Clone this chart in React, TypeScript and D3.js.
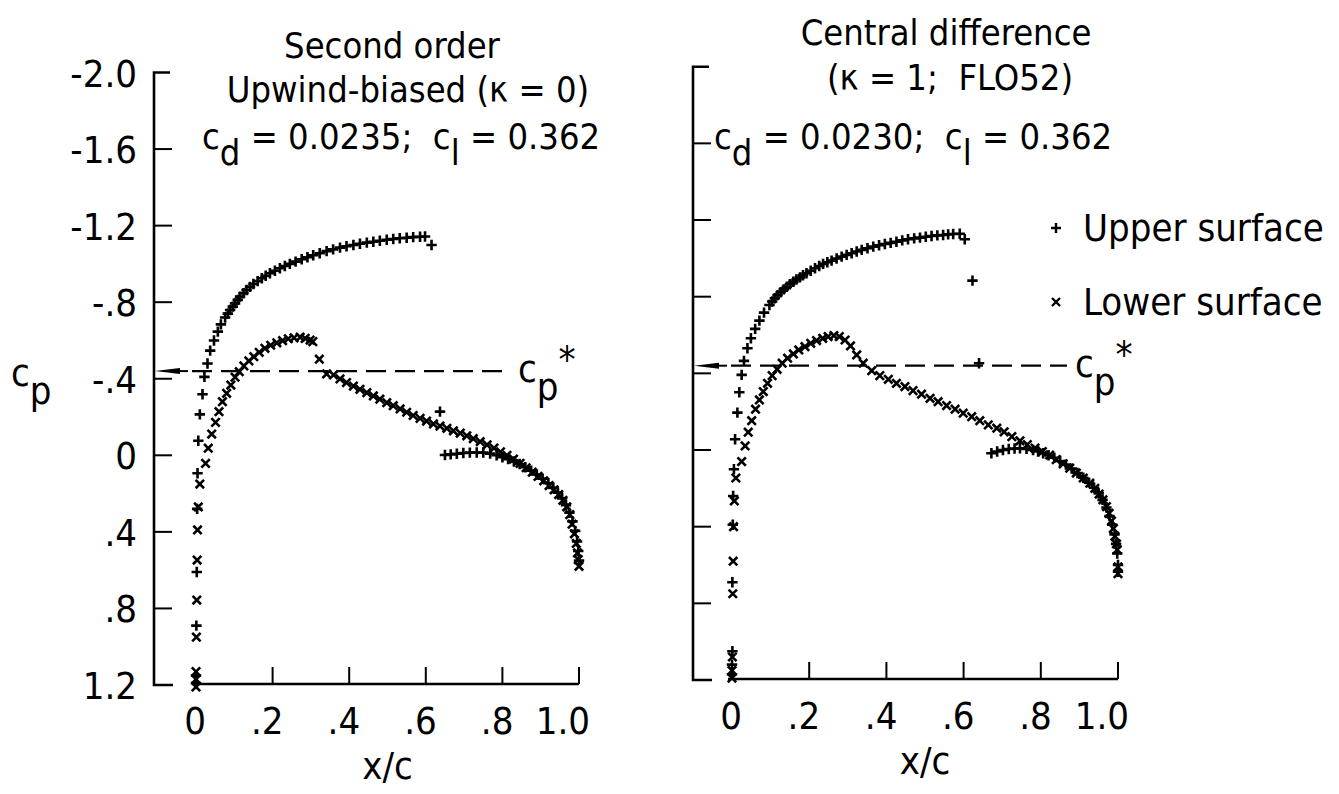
import React, { useEffect, useRef } from "react";
import * as d3 from "d3";

// [x/c, cp]
const leftUpper: [number, number][] = [
  [0, 1.19], [0, 1.15], [0.001, 0.89], [0.002, 0.61], [0.003, 0.28], [0.004, 0.094], [0.006, -0.076],
  [0.010, -0.214], [0.017, -0.319], [0.022, -0.41], [0.030, -0.48], [0.037, -0.547], [0.047, -0.60],
  [0.057, -0.646], [0.065, -0.684], [0.076, -0.72], [0.083, -0.74], [0.089, -0.759], [0.096, -0.777],
  [0.102, -0.794], [0.109, -0.812], [0.115, -0.829], [0.124, -0.847], [0.132, -0.864], [0.141, -0.88],
  [0.150, -0.895], [0.161, -0.91], [0.172, -0.925], [0.182, -0.938], [0.193, -0.951], [0.206, -0.964],
  [0.219, -0.977], [0.232, -0.989], [0.245, -1.0], [0.260, -1.012], [0.276, -1.024], [0.291, -1.035],
  [0.306, -1.045], [0.323, -1.056], [0.341, -1.067], [0.358, -1.076], [0.376, -1.085], [0.393, -1.092],
  [0.411, -1.099], [0.428, -1.105], [0.446, -1.111], [0.463, -1.116], [0.480, -1.121], [0.498, -1.126],
  [0.515, -1.13], [0.532, -1.134], [0.550, -1.137], [0.567, -1.14], [0.585, -1.142], [0.598, -1.143],
  [0.615, -1.099], [0.637, -0.228], [0.650, -0.002], [0.665, -0.005], [0.681, -0.008], [0.698, -0.012],
  [0.715, -0.014], [0.733, -0.015], [0.750, -0.014], [0.768, -0.009], [0.785, 0.0], [0.800, 0.01],
  [0.815, 0.02], [0.830, 0.032], [0.845, 0.045], [0.860, 0.062], [0.875, 0.08], [0.890, 0.1],
  [0.905, 0.122], [0.920, 0.146], [0.933, 0.17], [0.945, 0.195], [0.956, 0.225], [0.966, 0.26],
  [0.975, 0.3], [0.983, 0.345], [0.990, 0.395], [0.995, 0.45], [0.998, 0.5], [1.0, 0.55],
];

const leftLower: [number, number][] = [
  [0, 1.21], [0, 1.17], [0, 1.13], [0.001, 0.95], [0.002, 0.756], [0.003, 0.547], [0.004, 0.39],
  [0.006, 0.27], [0.010, 0.15], [0.025, 0.042], [0.032, -0.037], [0.041, -0.111], [0.051, -0.172],
  [0.060, -0.228], [0.069, -0.28], [0.080, -0.324], [0.091, -0.367], [0.102, -0.408], [0.113, -0.437],
  [0.125, -0.467], [0.138, -0.493], [0.151, -0.515], [0.165, -0.538], [0.180, -0.559], [0.195, -0.575],
  [0.211, -0.588], [0.226, -0.599], [0.241, -0.609], [0.256, -0.614], [0.272, -0.617], [0.285, -0.611],
  [0.298, -0.602], [0.305, -0.594], [0.322, -0.502], [0.341, -0.425], [0.359, -0.42], [0.376, -0.399],
  [0.393, -0.38], [0.411, -0.362], [0.428, -0.345], [0.446, -0.327], [0.463, -0.31], [0.480, -0.293],
  [0.498, -0.275], [0.515, -0.259], [0.533, -0.242], [0.550, -0.225], [0.567, -0.208], [0.585, -0.193],
  [0.602, -0.179], [0.620, -0.164], [0.637, -0.153], [0.655, -0.141], [0.672, -0.128], [0.690, -0.116],
  [0.707, -0.102], [0.724, -0.087], [0.742, -0.071], [0.760, -0.055], [0.778, -0.038], [0.795, -0.018],
  [0.812, 0.0], [0.829, 0.02], [0.846, 0.042], [0.862, 0.065], [0.878, 0.088], [0.893, 0.11],
  [0.908, 0.133], [0.922, 0.158], [0.935, 0.18], [0.947, 0.205], [0.958, 0.235], [0.968, 0.269],
  [0.976, 0.31], [0.982, 0.36], [0.988, 0.41], [0.993, 0.46], [0.996, 0.51], [0.998, 0.545], [1.0, 0.58],
];

const rightUpper: [number, number][] = [
  [0, 1.17], [0, 1.12], [0.001, 1.05], [0.001, 0.69], [0.002, 0.39], [0.003, 0.24], [0.005, 0.1],
  [0.008, -0.056], [0.014, -0.195], [0.019, -0.301], [0.025, -0.392], [0.031, -0.465], [0.040, -0.531],
  [0.049, -0.583], [0.060, -0.632], [0.071, -0.675], [0.083, -0.717], [0.097, -0.757], [0.104, -0.775],
  [0.111, -0.792], [0.118, -0.808], [0.126, -0.823], [0.134, -0.838], [0.142, -0.852], [0.150, -0.865],
  [0.159, -0.878], [0.167, -0.89], [0.176, -0.901], [0.184, -0.912], [0.193, -0.922], [0.204, -0.935],
  [0.215, -0.948], [0.226, -0.96], [0.236, -0.971], [0.247, -0.98], [0.258, -0.988], [0.271, -0.999],
  [0.284, -1.009], [0.297, -1.018], [0.310, -1.027], [0.323, -1.036], [0.336, -1.044], [0.351, -1.053],
  [0.366, -1.061], [0.381, -1.068], [0.396, -1.075], [0.411, -1.081], [0.426, -1.087], [0.441, -1.094],
  [0.456, -1.1], [0.472, -1.104], [0.487, -1.108], [0.502, -1.113], [0.517, -1.117], [0.532, -1.12],
  [0.547, -1.122], [0.560, -1.125], [0.573, -1.127], [0.590, -1.128], [0.603, -1.1], [0.623, -0.884],
  [0.640, -0.453], [0.672, 0.017], [0.687, 0.008], [0.702, 0.0], [0.717, -0.005], [0.732, -0.008],
  [0.746, -0.009], [0.763, -0.006], [0.780, 0.0], [0.793, 0.008], [0.806, 0.017], [0.820, 0.027],
  [0.835, 0.04], [0.850, 0.057], [0.865, 0.076], [0.880, 0.097], [0.895, 0.12], [0.910, 0.145],
  [0.925, 0.17], [0.938, 0.197], [0.950, 0.226], [0.960, 0.26], [0.970, 0.3], [0.978, 0.345],
  [0.985, 0.39], [0.991, 0.44], [0.995, 0.49], [0.998, 0.54], [1.0, 0.6], [1.0, 0.635],
];

const rightLower: [number, number][] = [
  [0, 1.19], [0, 1.15], [0.001, 1.08], [0.002, 0.75], [0.003, 0.58], [0.004, 0.4], [0.006, 0.266],
  [0.010, 0.146], [0.025, 0.06], [0.034, -0.021], [0.042, -0.093], [0.051, -0.153], [0.061, -0.213],
  [0.071, -0.261], [0.081, -0.305], [0.092, -0.348], [0.104, -0.388], [0.117, -0.421], [0.130, -0.453],
  [0.144, -0.479], [0.159, -0.501], [0.173, -0.522], [0.189, -0.539], [0.204, -0.557], [0.219, -0.571],
  [0.235, -0.583], [0.249, -0.592], [0.264, -0.597], [0.278, -0.592], [0.293, -0.574], [0.307, -0.543],
  [0.323, -0.496], [0.340, -0.453], [0.362, -0.414], [0.383, -0.388], [0.405, -0.369], [0.426, -0.348],
  [0.448, -0.331], [0.469, -0.31], [0.491, -0.291], [0.513, -0.27], [0.534, -0.252], [0.556, -0.232],
  [0.578, -0.213], [0.599, -0.192], [0.621, -0.174], [0.642, -0.153], [0.664, -0.131], [0.686, -0.114],
  [0.705, -0.095], [0.725, -0.07], [0.746, -0.048], [0.765, -0.028], [0.785, -0.01], [0.804, 0.008],
  [0.823, 0.026], [0.840, 0.05], [0.858, 0.072], [0.875, 0.095], [0.892, 0.12], [0.910, 0.146],
  [0.927, 0.173], [0.940, 0.2], [0.951, 0.23], [0.961, 0.26], [0.970, 0.295], [0.977, 0.33],
  [0.983, 0.37], [0.988, 0.41], [0.992, 0.45], [0.996, 0.49], [0.998, 0.52], [1.0, 0.61], [1.0, 0.645],
];

const yTicks = [-2.0, -1.6, -1.2, -0.8, -0.4, 0, 0.4, 0.8, 1.2];
const yTickLabels = ["-2.0", "-1.6", "-1.2", "-.8", "-.4", "0", ".4", ".8", "1.2"];
const xTicks = [0, 0.2, 0.4, 0.6, 0.8, 1.0];
const xTickLabels = ["0", ".2", ".4", ".6", ".8", "1.0"];
const cpStar = -0.44;

const leftTitle = ["Second order", "Upwind-biased (\u03ba = 0)"];
const rightTitle = ["Central difference", "(\u03ba = 1;  FLO52)"];
const leftCoef = ["0.0235", "0.362"];
const rightCoef = ["0.0230", "0.362"];
const legendLabels = ["Upper surface", "Lower surface"];

const FONT = "'DejaVu Sans Condensed', 'Liberation Sans Narrow', 'DejaVu Sans', sans-serif";

const panels = [
  {
    x0: 196, x1: 579, yTop: 72.5, yBot: 685, axisX: 154, dashEnd: 510,
    upper: leftUpper, lower: leftLower, title: leftTitle, coef: leftCoef,
    titleX: [392, 408], titleY: [58, 102], coefX: 202, coefY: 149, labels: true,
  },
  {
    x0: 732, x1: 1118, yTop: 66.7, yBot: 680, axisX: 693, dashEnd: 1067,
    upper: rightUpper, lower: rightLower, title: rightTitle, coef: rightCoef,
    titleX: [946, 950], titleY: [45, 90], coefX: 714, coefY: 149, labels: false,
  },
];

const plusPath = (s: number) => `M${-s},0H${s}M0,${-s}V${s}`;
const crossPath = (s: number) => `M${-s},${-s}L${s},${s}M${-s},${s}L${s},${-s}`;

export default function App() {
  const ref = useRef<SVGSVGElement>(null);

  useEffect(() => {
    const svg = d3.select(ref.current);
    svg.selectAll("*").remove();

    panels.forEach((p) => {
      const x = d3.scaleLinear().domain([0, 1]).range([p.x0, p.x1]);
      const y = d3.scaleLinear().domain([-2, 1.2]).range([p.yTop, p.yBot]);
      const g = svg.append("g");

      // y axis with end caps
      g.append("path")
        .attr("d", `M${p.axisX + 16},${y(-2)}H${p.axisX}V${y(1.2)}H${p.axisX + 19}`)
        .attr("fill", "none").attr("stroke", "#000").attr("stroke-width", 2.6);
      g.selectAll(".yt")
        .data(yTicks.slice(1, -1))
        .join("line")
        .attr("x1", p.axisX).attr("x2", p.axisX + 18)
        .attr("y1", (d) => y(d)).attr("y2", (d) => y(d))
        .attr("stroke", "#000").attr("stroke-width", 2);

      // x axis
      const xb = y(1.2) - 1;
      g.append("line")
        .attr("x1", x(0) - 4).attr("x2", x(1))
        .attr("y1", xb).attr("y2", xb)
        .attr("stroke", "#000").attr("stroke-width", 2.6);
      g.selectAll(".xt")
        .data(xTicks.slice(1))
        .join("line")
        .attr("x1", (d) => x(d)).attr("x2", (d) => x(d))
        .attr("y1", xb).attr("y2", xb - 17)
        .attr("stroke", "#000").attr("stroke-width", 2);

      g.selectAll(".xl")
        .data(xTicks)
        .join("text")
        .attr("x", (d) => x(d) + (d === 0 ? 10 : 11))
        .attr("y", xb + 50)
        .attr("text-anchor", "end")
        .attr("font-family", FONT).attr("font-size", 38)
        .text((d, i) => xTickLabels[i]);

      g.append("text")
        .attr("x", (p.x0 + p.x1) / 2).attr("y", xb + 95)
        .attr("text-anchor", "middle")
        .attr("font-family", FONT).attr("font-size", 38)
        .text("x/c");

      // critical pressure line with arrow
      const yc = y(cpStar);
      g.append("path")
        .attr("d", `M${p.axisX + 1},${yc}L${p.axisX + 26},${yc - 3}L${p.axisX + 26},${yc + 3}Z`)
        .attr("fill", "#000");
      g.append("line")
        .attr("x1", p.axisX + 20).attr("x2", p.axisX + 34)
        .attr("y1", yc).attr("y2", yc)
        .attr("stroke", "#000").attr("stroke-width", 2);
      g.append("line")
        .attr("x1", p.axisX + 38).attr("x2", p.dashEnd)
        .attr("y1", yc).attr("y2", yc)
        .attr("stroke", "#000").attr("stroke-width", 2.2)
        .attr("stroke-dasharray", "20 9");
      const cs = g.append("text")
        .attr("x", p.dashEnd + 8).attr("y", yc + 11)
        .attr("font-family", FONT).attr("font-size", 38);
      cs.append("tspan").text("c");
      cs.append("tspan").attr("dy", 18).text("p");
      cs.append("tspan").attr("dy", -27).text("*");

      // titles
      p.title.forEach((t, i) => {
        g.append("text")
          .attr("x", p.titleX[i]).attr("y", p.titleY[i])
          .attr("text-anchor", "middle")
          .attr("font-family", FONT).attr("font-size", 36)
          .attr("xml:space", "preserve")
          .text(t);
      });
      const ct = g.append("text")
        .attr("x", p.coefX).attr("y", p.coefY)
        .attr("font-family", FONT).attr("font-size", 36)
        .attr("xml:space", "preserve");
      ct.append("tspan").text("c");
      ct.append("tspan").attr("dy", 16).text("d");
      ct.append("tspan").attr("dy", -16).text(` = ${p.coef[0]};  c`);
      ct.append("tspan").attr("dy", 16).text("l");
      ct.append("tspan").attr("dy", -16).text(` = ${p.coef[1]}`);

      // markers
      g.selectAll(".up")
        .data(p.upper)
        .join("path")
        .attr("transform", (d) => `translate(${x(d[0])},${y(d[1])})`)
        .attr("d", plusPath(5.2))
        .attr("stroke", "#000").attr("stroke-width", 2.6).attr("fill", "none");
      g.selectAll(".lo")
        .data(p.lower)
        .join("path")
        .attr("transform", (d) => `translate(${x(d[0])},${y(d[1])})`)
        .attr("d", crossPath(4.2))
        .attr("stroke", "#000").attr("stroke-width", 2.6).attr("fill", "none");

      if (p.labels) {
        g.selectAll(".yl")
          .data(yTicks)
          .join("text")
          .attr("x", 137).attr("y", (d) => y(d) + 14)
          .attr("text-anchor", "end")
          .attr("font-family", FONT).attr("font-size", 38)
          .text((d, i) => yTickLabels[i]);
        const cp = g.append("text")
          .attr("x", 11).attr("y", 386)
          .attr("font-family", FONT).attr("font-size", 38);
        cp.append("tspan").text("c");
        cp.append("tspan").attr("dy", 18).text("p");
      }
    });

    // legend
    const leg = svg.append("g");
    [plusPath(5), crossPath(4)].forEach((d, i) => {
      const ly = [228, 302][i];
      leg.append("path")
        .attr("transform", `translate(1056,${ly})`)
        .attr("d", d)
        .attr("stroke", "#000").attr("stroke-width", 2.4).attr("fill", "none");
      leg.append("text")
        .attr("x", 1083).attr("y", ly + 13)
        .attr("font-family", FONT).attr("font-size", 38)
        .text(legendLabels[i]);
    });
  }, []);

  return (
    <svg
      ref={ref}
      width={1339}
      height={794}
      style={{ position: "absolute", left: 0, top: 0, background: "#fff" }}
    />
  );
}
